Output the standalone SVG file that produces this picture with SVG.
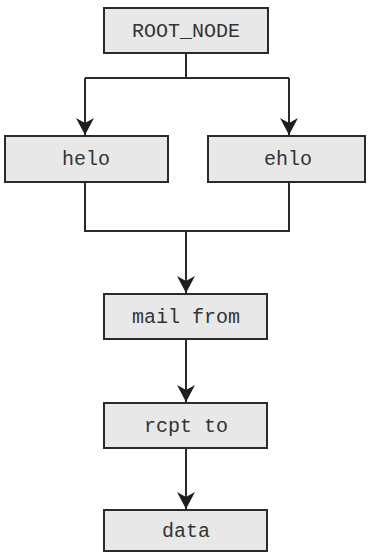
<svg xmlns="http://www.w3.org/2000/svg" width="368" height="555" viewBox="0 0 368 555">
<style>
.box{fill:#e8e8e8;stroke:#2a2a2a;stroke-width:2}
.lbl{font-family:"Liberation Mono","Courier New",monospace;font-size:20px;fill:#333;text-anchor:middle}
.ln{fill:none;stroke:#2a2a2a;stroke-width:2}
</style>
<defs>
<marker id="ah" viewBox="0 0 17 18" refX="17" refY="9" markerWidth="17" markerHeight="18" markerUnits="userSpaceOnUse" orient="auto">
<path d="M0,0 L17,9 L0,18 L5,9 Z" fill="#1e1e1e"/>
</marker>
</defs>
<rect width="368" height="555" fill="#fff"/>
<g id="connectors">
<path class="ln" d="M186,53 V78"/>
<path class="ln" d="M85,78 H289"/>
<path class="ln" d="M85,78 V135" marker-end="url(#ah)"/>
<path class="ln" d="M289,78 V135" marker-end="url(#ah)"/>
<path class="ln" d="M85,182 V231 H289 V182"/>
<path class="ln" d="M186,231 V293" marker-end="url(#ah)"/>
<path class="ln" d="M186,339 V402" marker-end="url(#ah)"/>
<path class="ln" d="M186,448 V509" marker-end="url(#ah)"/>
</g>
<g id="root_node"><rect class="box" x="104" y="8" width="164" height="45"/><text class="lbl" x="186" y="37">ROOT_NODE</text></g>
<g id="helo"><rect class="box" x="5" y="136" width="163" height="46"/><text class="lbl" x="86" y="165">helo</text></g>
<g id="ehlo"><rect class="box" x="208" y="136" width="157" height="46"/><text class="lbl" x="288" y="165">ehlo</text></g>
<g id="mail_from"><rect class="box" x="104" y="294" width="163" height="45"/><text class="lbl" x="186" y="323">mail from</text></g>
<g id="rcpt_to"><rect class="box" x="104" y="403" width="163" height="45"/><text class="lbl" x="186" y="432">rcpt to</text></g>
<g id="data"><rect class="box" x="104" y="510" width="163" height="41"/><text class="lbl" x="186" y="537">data</text></g>
</svg>
